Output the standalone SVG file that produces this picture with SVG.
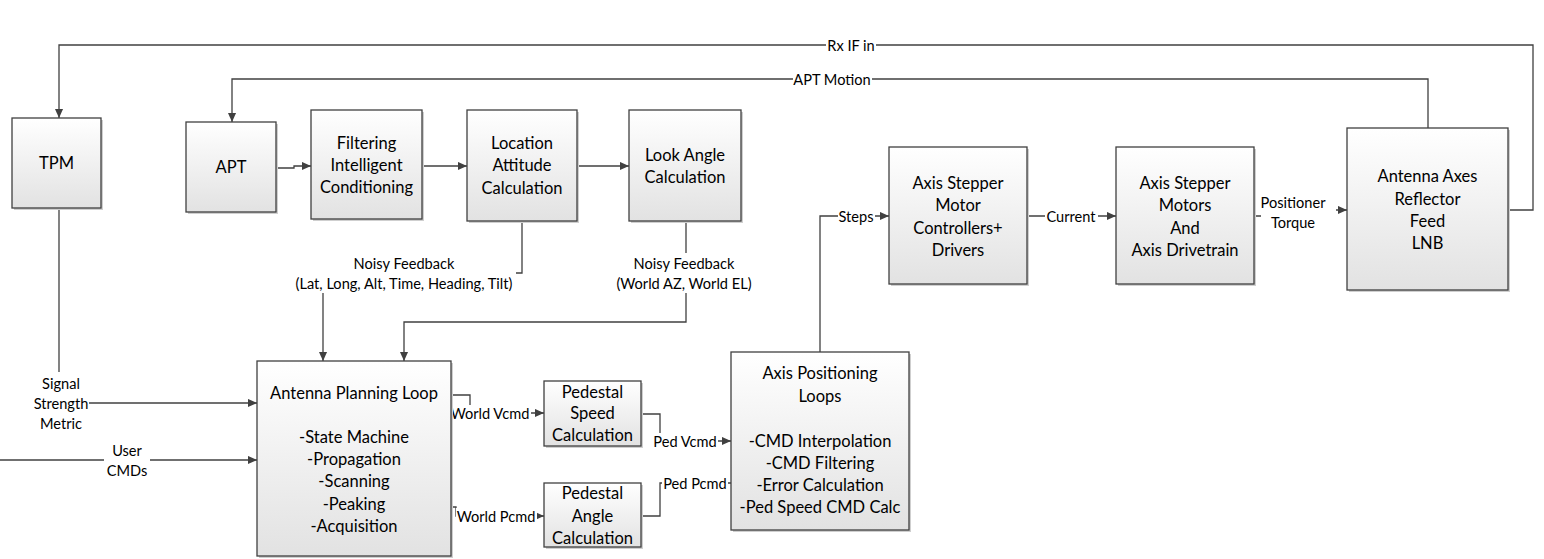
<svg xmlns="http://www.w3.org/2000/svg" width="1544" height="559" viewBox="0 0 1544 559">
<style>
.box{fill:url(#g);stroke:#404040;stroke-width:1.3}
.sh{fill:#cfcfcf}
.t{font-family:Lato,"Liberation Sans",sans-serif;font-size:16.5px;fill:#000;text-anchor:middle;dominant-baseline:central}
.l{font-family:Lato,"Liberation Sans",sans-serif;font-size:14.6px;fill:#000;text-anchor:middle;dominant-baseline:central}
.c{fill:none;stroke:#404040;stroke-width:1.3}
.a{marker-end:url(#ar)}
.bg{fill:#fff}
</style>
<defs>
<linearGradient id="g" x1="0" y1="0" x2="0" y2="1">
<stop offset="0" stop-color="#ffffff"/>
<stop offset="1" stop-color="#e2e2e2"/>
</linearGradient>
<marker id="ar" viewBox="0 0 10 10" refX="10" refY="5" markerWidth="9" markerHeight="9" markerUnits="userSpaceOnUse" orient="auto">
<path d="M0,0.5 L10,5 L0,9.5 z" fill="#404040"/>
</marker>
</defs>
<rect width="1544" height="559" fill="#fff"/>

<g id="connectors">
<path class="c a" d="M1508,210 H1533 V45 H59 V118"/>
<path class="c a" d="M1428,128 V79 H232 V122"/>
<path class="c a" d="M276,168 H294 V166 H311"/>
<path class="c a" d="M422,166 H467"/>
<path class="c a" d="M577,166 H629"/>
<path class="c" d="M522,221 V273 H516"/>
<path class="c a" d="M323,293 V361"/>
<path class="c" d="M686,221 V253"/>
<path class="c a" d="M686,293 V322 H404 V361"/>
<path class="c" d="M59,208 V372"/>
<path class="c a" d="M89,403 H257"/>
<path class="c a" d="M0,460 H257"/>
<path class="c a" d="M452,395 H470 V413 H544"/>
<path class="c a" d="M452,507 H456 V516 H544"/>
<path class="c a" d="M642,414 H660 V441 H731"/>
<path class="c" d="M642,516 H660 V483 H731"/>
<path class="c a" d="M820,352 V216 H889"/>
<path class="c a" d="M1027,216 H1116"/>
<path class="c a" d="M1254,216 H1290 V210 H1347"/>
<g id="labels">
<rect class="bg" x="826" y="37" width="50" height="16"/>
<text class="l" x="851" y="45">Rx IF in</text>
<rect class="bg" x="793" y="71" width="79" height="16"/>
<text class="l" x="832" y="79">APT Motion</text>
<text class="l" x="404" y="263">Noisy Feedback</text>
<text class="l" x="404" y="283">(Lat, Long, Alt, Time, Heading, Tilt)</text>
<text class="l" x="684" y="263">Noisy Feedback</text>
<text class="l" x="684" y="283">(World AZ, World EL)</text>
<text class="l" x="61" y="383">Signal</text>
<text class="l" x="61" y="403">Strength</text>
<text class="l" x="61" y="423">Metric</text>
<rect class="bg" x="104" y="441" width="46" height="38"/>
<text class="l" x="127" y="450">User</text>
<text class="l" x="127" y="470">CMDs</text>
<rect class="bg" x="449" y="405" width="82" height="16"/>
<text class="l" x="490" y="413">World Vcmd</text>
<rect class="bg" x="456" y="508" width="81" height="16"/>
<text class="l" x="496" y="516">World Pcmd</text>
<rect class="bg" x="652" y="433" width="66" height="16"/>
<text class="l" x="685" y="441">Ped Vcmd</text>
<rect class="bg" x="662" y="475" width="66" height="16"/>
<text class="l" x="695" y="483">Ped Pcmd</text>
<rect class="bg" x="838" y="208" width="37" height="16"/>
<text class="l" x="856" y="216">Steps</text>
<rect class="bg" x="1045" y="208" width="53" height="16"/>
<text class="l" x="1071" y="216">Current</text>
<rect class="bg" x="1261" y="193" width="75" height="38"/>
<text class="l" x="1293" y="202">Positioner</text>
<text class="l" x="1293" y="222">Torque</text>
</g>
</g>

<g id="tpm">
<rect class="sh" x="14" y="120" width="89" height="90"/>
<rect class="box" x="12" y="118" width="89" height="90"/>
<text class="t" x="56.5" y="163">TPM</text>
</g>
<g id="apt">
<rect class="sh" x="188" y="124" width="90" height="90"/>
<rect class="box" x="186" y="122" width="90" height="90"/>
<text class="t" x="231" y="167">APT</text>
</g>
<g id="filtering">
<rect class="sh" x="313" y="112" width="111" height="109"/>
<rect class="box" x="311" y="110" width="111" height="109"/>
<text class="t" x="366.5" y="143">Filtering</text>
<text class="t" x="366.5" y="165">Intelligent</text>
<text class="t" x="366.5" y="187">Conditioning</text>
</g>
<g id="location">
<rect class="sh" x="469" y="112" width="110" height="111"/>
<rect class="box" x="467" y="110" width="110" height="111"/>
<text class="t" x="522" y="143">Location</text>
<text class="t" x="522" y="165">Attitude</text>
<text class="t" x="522" y="188">Calculation</text>
</g>
<g id="lookangle">
<rect class="sh" x="631" y="112" width="112" height="111"/>
<rect class="box" x="629" y="110" width="112" height="111"/>
<text class="t" x="685" y="155">Look Angle</text>
<text class="t" x="685" y="177">Calculation</text>
</g>
<g id="controllers">
<rect class="sh" x="891" y="149" width="138" height="137"/>
<rect class="box" x="889" y="147" width="138" height="137"/>
<text class="t" x="958" y="183">Axis Stepper</text>
<text class="t" x="958" y="205">Motor</text>
<text class="t" x="958" y="228">Controllers+</text>
<text class="t" x="958" y="250">Drivers</text>
</g>
<g id="motors">
<rect class="sh" x="1118" y="149" width="138" height="137"/>
<rect class="box" x="1116" y="147" width="138" height="137"/>
<text class="t" x="1185" y="183">Axis Stepper</text>
<text class="t" x="1185" y="205">Motors</text>
<text class="t" x="1185" y="228">And</text>
<text class="t" x="1185" y="250">Axis Drivetrain</text>
</g>
<g id="antenna">
<rect class="sh" x="1349" y="130" width="161" height="162"/>
<rect class="box" x="1347" y="128" width="161" height="162"/>
<text class="t" x="1427.5" y="176">Antenna Axes</text>
<text class="t" x="1427.5" y="199">Reflector</text>
<text class="t" x="1427.5" y="221">Feed</text>
<text class="t" x="1427.5" y="243">LNB</text>
</g>
<g id="planning">
<rect class="sh" x="259" y="363" width="194" height="195"/>
<rect class="box" x="257" y="361" width="194" height="195"/>
<text class="t" x="354" y="393">Antenna Planning Loop</text>
<text class="t" x="354" y="437">-State Machine</text>
<text class="t" x="354" y="459">-Propagation</text>
<text class="t" x="354" y="481">-Scanning</text>
<text class="t" x="354" y="504">-Peaking</text>
<text class="t" x="354" y="526">-Acquisition</text>
</g>
<g id="pedspeed">
<rect class="sh" x="546" y="383" width="97" height="65"/>
<rect class="box" x="544" y="381" width="97" height="65"/>
<text class="t" x="592.5" y="392">Pedestal</text>
<text class="t" x="592.5" y="413">Speed</text>
<text class="t" x="592.5" y="435">Calculation</text>
</g>
<g id="pedangle">
<rect class="sh" x="546" y="485" width="97" height="64"/>
<rect class="box" x="544" y="483" width="97" height="64"/>
<text class="t" x="592.5" y="493">Pedestal</text>
<text class="t" x="592.5" y="516">Angle</text>
<text class="t" x="592.5" y="538">Calculation</text>
</g>
<g id="axispos">
<rect class="sh" x="733" y="354" width="178" height="178"/>
<rect class="box" x="731" y="352" width="178" height="178"/>
<text class="t" x="820" y="373">Axis Positioning</text>
<text class="t" x="820" y="396">Loops</text>
<text class="t" x="820" y="441">-CMD Interpolation</text>
<text class="t" x="820" y="463">-CMD Filtering</text>
<text class="t" x="820" y="485">-Error Calculation</text>
<text class="t" x="820" y="507">-Ped Speed CMD Calc</text>
</g>
</svg>
